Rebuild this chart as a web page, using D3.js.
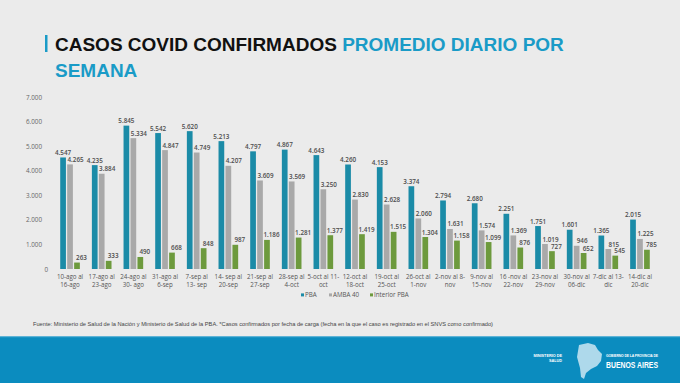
<!DOCTYPE html>
<html><head><meta charset="utf-8">
<script src="https://cdn.jsdelivr.net/npm/d3@7"></script>
<style>
html,body{margin:0;padding:0;background:#ebebeb;}
svg{display:block;}
</style></head>
<body>
<svg id="c" width="680" height="383"></svg>
<script>
const weeksLine1 = ["10-ago al","17-ago al","24-ago al","31-ago al","7-sep al","14- sep al","21-sep al","28-sep al","5-oct al 11-","12-oct al","19-oct al","26-oct al","2-nov al 8-","9-nov al","16 -nov al","23-nov al","30-nov al","7-dic al 13-","14-dic al"];
const weeksLine2 = ["16-ago","23-ago","30- ago","6-sep","13- sep","20-sep","27-sep","4-oct","oct","18-oct","25-oct","1-nov","nov","15-nov","22-nov","29-nov","06-dic","dic","20-dic"];
const seriesNames = ["PBA","AMBA 40","Interior PBA"];
const pba = [4547,4235,5845,5542,5620,5213,4797,4867,4643,4260,4153,3374,2794,2680,2251,1751,1601,1365,2015];
const amba = [4265,3884,5334,4847,4749,4207,3609,3569,3250,2830,2628,2060,1631,1574,1369,1019,946,815,1225];
const interior = [263,333,490,668,848,987,1186,1281,1377,1419,1515,1304,1158,1099,876,727,652,545,785];
const yTicks = [0,1000,2000,3000,4000,5000,6000,7000];
const colors = ["#1b8ba7","#a9a9a9","#6d9a3d"];

const svg = d3.select("#c");
const fmt = d3.formatLocale({decimal:",",thousands:".",grouping:[3],currency:["$",""]}).format(",d");

// title
svg.append("rect").attr("x",45).attr("y",35).attr("width",2.5).attr("height",17).attr("fill","#1a9bc7");
const t = svg.append("text").attr("x",55).attr("y",51).attr("font-family","Liberation Sans, Arial, sans-serif")
  .attr("font-weight","bold").attr("font-size",19);
t.append("tspan").attr("fill","#111").text("CASOS COVID CONFIRMADOS ");
t.append("tspan").attr("fill","#1a9bc7").text("PROMEDIO DIARIO POR");
svg.append("text").attr("x",55).attr("y",77).attr("font-family","Liberation Sans, Arial, sans-serif")
  .attr("font-weight","bold").attr("font-size",19).attr("fill","#1a9bc7").text("SEMANA");

const data = weeksLine1.map((w,i)=>({i, vals:[pba[i],amba[i],interior[i]]}));
const x0 = d3.scaleBand().domain(d3.range(weeksLine1.length)).range([54.2,655.8]).paddingInner(0.38).paddingOuter(0.19);
const x1 = d3.scaleBand().domain(d3.range(3)).range([0,x0.bandwidth()]).paddingInner(0.18);
const y = d3.scaleLinear().domain([0,7000]).range([269,97.3]);

// y axis
const ya = svg.append("g").attr("transform","translate(42,0)")
  .call(d3.axisLeft(y).tickValues(yTicks).tickSize(0).tickPadding(0).tickFormat(fmt));
ya.select(".domain").remove();
ya.selectAll("text").attr("font-family","Open Sans, sans-serif").attr("font-size",6.3).attr("fill","#666")
  .attr("dx", d=> d===0 ? 6 : 0);

const labelShift = [0, 5.5, 4.5];
const g = svg.append("g").selectAll("g").data(data).join("g")
  .attr("transform",d=>`translate(${x0(d.i)},0)`);
g.selectAll("rect").data(d=>d.vals.map((v,k)=>({v,k}))).join("rect")
  .attr("x",d=>x1(d.k)).attr("width",x1.bandwidth())
  .attr("y",d=>y(d.v)).attr("height",d=>y(0)-y(d.v)).attr("fill",d=>colors[d.k]);
g.selectAll("text.v").data(d=>d.vals.map((v,k)=>({v,k}))).join("text").attr("class","v")
  .attr("x",d=>x1(d.k)+x1.bandwidth()/2 + labelShift[d.k]).attr("y",d=>y(d.v)-2.5)
  .attr("text-anchor","middle").attr("font-family","Open Sans, sans-serif").attr("font-weight",600)
  .attr("font-size",6.3).attr("fill","#4d4d4d").text(d=>fmt(d.v));

// x axis labels
const xa = svg.append("g").attr("transform","translate(0,269)")
  .call(d3.axisBottom(x0).tickSize(0).tickFormat(()=>""));
xa.select(".domain").remove();
xa.selectAll(".tick text").each(function(d){
  const s = d3.select(this).attr("y",null).attr("dy",null);
  s.attr("font-family","Open Sans, sans-serif").attr("font-size",6.2).attr("fill","#555");
  s.append("tspan").attr("x",0).attr("y",9.5).text(weeksLine1[d]);
  s.append("tspan").attr("x",0).attr("y",17.5).text(weeksLine2[d]);
});

// legend
const legX = [301,329,370];
const lg = svg.append("g").selectAll("g").data(seriesNames).join("g")
  .attr("transform",(d,i)=>`translate(${legX[i]},295)`);
lg.append("rect").attr("x",0).attr("y",-1.6).attr("width",3).attr("height",3).attr("fill",(d,i)=>colors[i]);
lg.append("text").attr("x",4).attr("y",2.2).attr("font-family","Open Sans, sans-serif").attr("font-size",6.2)
  .attr("fill","#555").text(d=>d);

// footer source
svg.append("text").attr("x",33).attr("y",326).attr("font-family","Liberation Sans Narrow, Liberation Sans, Arial, sans-serif")
  .attr("font-size",5).attr("fill","#444").attr("textLength",460).attr("lengthAdjust","spacingAndGlyphs")
  .text("Fuente: Ministerio de Salud de la Nación y Ministerio de Salud de la PBA. *Casos confirmados por fecha de carga (fecha en la que el caso es registrado en el SNVS como confirmado)");

// footer band
svg.append("rect").attr("x",0).attr("y",336).attr("width",680).attr("height",47).attr("fill","#0b8cbf");
svg.append("rect").attr("x",0).attr("y",336).attr("width",680).attr("height",1.2).attr("fill","#5fb3d6");
const ft = svg.append("g").attr("fill","#fff").attr("font-family","Liberation Sans, Arial, sans-serif").attr("font-weight","bold");
ft.append("text").attr("x",562).attr("y",357).attr("text-anchor","end").attr("font-size",3.8).text("MINISTERIO DE");
ft.append("text").attr("x",562).attr("y",361.5).attr("text-anchor","end").attr("font-size",3.8).text("SALUD");
svg.append("path").attr("d","M579,345 L588,343 L595,345 L598,350 L602,354 L601,361 L597,366 L591,369 L586,373 L584,379 L581,377 L580,368 L577,357 Z")
  .attr("fill","#d7ecf6").attr("opacity",0.8);
ft.append("text").attr("x",606).attr("y",356.5).attr("font-size",3.4).attr("textLength",52).text("GOBIERNO DE LA PROVINCIA DE");
ft.append("text").attr("x",606).attr("y",367.5).attr("font-size",9).attr("textLength",52).attr("lengthAdjust","spacingAndGlyphs").text("BUENOS AIRES");
</script>
</body></html>
